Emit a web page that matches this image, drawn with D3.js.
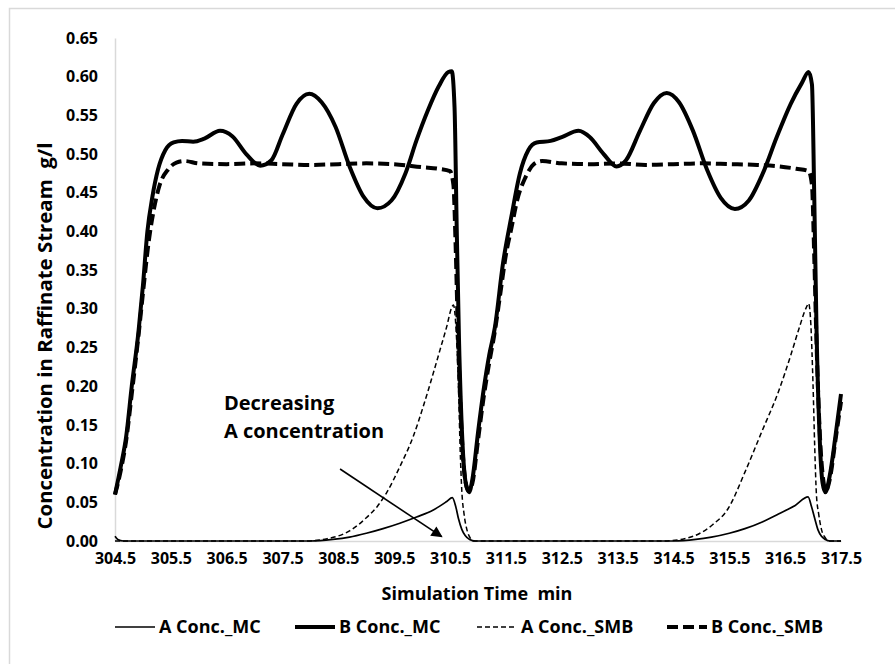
<!DOCTYPE html>
<html>
<head>
<meta charset="utf-8">
<script src="https://cdn.jsdelivr.net/npm/d3@7"></script>
<style>
  body { margin: 0; background: #fff; }
  text { font-family: "Open Sans", "DejaVu Sans", sans-serif; font-weight: bold; fill: #000; }
</style>
</head>
<body>
<svg id="chart"></svg>
<script>
// values
const xTicks = [304.5, 305.5, 306.5, 307.5, 308.5, 309.5, 310.5, 311.5, 312.5, 313.5, 314.5, 315.5, 316.5, 317.5];
const yTicks = [0, 0.05, 0.1, 0.15, 0.2, 0.25, 0.3, 0.35, 0.4, 0.45, 0.5, 0.55, 0.6, 0.65];

const aMcTime = [304.5, 304.55, 304.65, 308.0, 308.4, 308.7, 309.0, 309.3, 309.6, 309.9, 310.2, 310.44, 310.54, 310.6, 310.65, 310.71, 310.77, 310.85, 310.95,
  314.5, 314.9, 315.18, 315.5, 315.78, 316.1, 316.38, 316.68, 316.91, 316.97, 317.03, 317.09, 317.15, 317.22, 317.3, 317.5];
const aMcConc = [0.006, 0.002, 0, 0, 0.002, 0.005, 0.01, 0.016, 0.023, 0.031, 0.04, 0.051, 0.056, 0.045, 0.029, 0.015, 0.007, 0.002, 0,
  0, 0.002, 0.005, 0.01, 0.016, 0.025, 0.035, 0.046, 0.057, 0.045, 0.029, 0.014, 0.006, 0.002, 0, 0];

const bMcTime = [304.5, 304.6, 304.7, 304.8, 304.92, 305.0, 305.08, 305.17, 305.27, 305.4, 305.55, 305.7, 305.9, 306.1, 306.38, 306.6, 306.85, 307.1, 307.3, 307.5,
  307.75, 307.98, 308.2, 308.45, 308.7, 308.95, 309.2, 309.45, 309.7, 309.9, 310.1, 310.3, 310.47, 310.53, 310.58, 310.62, 310.66, 310.72, 310.78, 310.84,
  310.9, 311.0, 311.1, 311.2, 311.3, 311.45, 311.6, 311.75, 311.9, 312.05, 312.3, 312.5, 312.8, 313.0, 313.25, 313.48, 313.65, 313.9, 314.15, 314.38,
  314.6, 314.85, 315.1, 315.35, 315.6, 315.85, 316.1, 316.35, 316.6, 316.8, 316.92, 316.98, 317.02, 317.06, 317.12, 317.17, 317.22, 317.3, 317.4, 317.5];
const bMcConc = [0.06, 0.095, 0.135, 0.2, 0.27, 0.33, 0.4, 0.445, 0.48, 0.505, 0.515, 0.517, 0.516, 0.52, 0.53, 0.523, 0.5, 0.485, 0.492, 0.525,
  0.565, 0.578, 0.567, 0.535, 0.484, 0.445, 0.43, 0.44, 0.475, 0.518, 0.556, 0.588, 0.606, 0.607, 0.56, 0.4, 0.26, 0.13, 0.075, 0.063,
  0.08, 0.14, 0.195, 0.24, 0.275, 0.36, 0.42, 0.475, 0.505, 0.515, 0.517, 0.522, 0.53, 0.522, 0.5, 0.484, 0.492, 0.53, 0.566, 0.579,
  0.567, 0.53, 0.48, 0.443, 0.429, 0.44, 0.475, 0.522, 0.565, 0.592, 0.606, 0.59, 0.45, 0.28, 0.13, 0.075, 0.063, 0.085, 0.135, 0.19];

const aSmbTime = [304.5, 307.9, 308.3, 308.7, 309.0, 309.2, 309.36, 309.6, 309.84, 310.02, 310.2, 310.32, 310.44, 310.53, 310.56, 310.61, 310.65, 310.68, 310.71, 310.75, 310.8, 310.86, 310.92,
  314.3, 314.7, 315.0, 315.2, 315.48, 315.78, 316.08, 316.38, 316.6, 316.75, 316.88, 316.92, 316.96, 317.0, 317.03, 317.06, 317.1, 317.15, 317.22, 317.28, 317.5];
const aSmbConc = [0, 0, 0.003, 0.013, 0.03, 0.045, 0.062, 0.096, 0.135, 0.174, 0.217, 0.247, 0.277, 0.302, 0.305, 0.27, 0.2, 0.12, 0.065, 0.035, 0.015, 0.004, 0,
  0, 0.003, 0.011, 0.021, 0.042, 0.089, 0.141, 0.193, 0.24, 0.275, 0.302, 0.307, 0.28, 0.2, 0.12, 0.06, 0.035, 0.015, 0.004, 0, 0];

const bSmbTime = [304.5, 304.6, 304.7, 304.8, 304.92, 305.0, 305.1, 305.2, 305.3, 305.45, 305.6, 305.75, 306.0, 306.5, 307.0, 307.5, 308.0, 308.5, 309.0, 309.5,
  310.0, 310.3, 310.5, 310.56, 310.6, 310.64, 310.7, 310.76, 310.83, 310.9, 311.0, 311.1, 311.2, 311.3, 311.4, 311.5, 311.6, 311.7, 311.85, 312.0,
  312.15, 312.5, 313.0, 313.5, 314.0, 314.5, 315.0, 315.5, 316.0, 316.4, 316.7, 316.92, 316.98, 317.02, 317.06, 317.12, 317.18, 317.23, 317.3, 317.4, 317.5];
const bSmbConc = [0.06, 0.09, 0.13, 0.19, 0.265, 0.32, 0.385, 0.43, 0.46, 0.48, 0.489, 0.491, 0.488, 0.487, 0.488, 0.487, 0.486, 0.487, 0.488, 0.487,
  0.483, 0.481, 0.478, 0.46, 0.38, 0.27, 0.15, 0.085, 0.065, 0.075, 0.13, 0.185, 0.23, 0.27, 0.32, 0.37, 0.405, 0.44, 0.47, 0.487,
  0.491, 0.488, 0.487, 0.488, 0.486, 0.487, 0.488, 0.487, 0.486, 0.484, 0.481, 0.478, 0.46, 0.37, 0.26, 0.14, 0.08, 0.065, 0.08, 0.13, 0.18];

const seriesNames = ["A Conc._MC", "B Conc._MC", "A Conc._SMB", "B Conc._SMB"];

const width = 895;
const height = 664;

const svg = d3.select("#chart")
  .attr("width", width)
  .attr("height", height);

// chart frame
svg.append("rect")
  .attr("x", 9.5)
  .attr("y", 8.5)
  .attr("width", 900)
  .attr("height", 700)
  .attr("fill", "none")
  .attr("stroke", "#d9d9d9")
  .attr("stroke-width", 1.5);

const xScale = d3.scaleLinear().domain([304.5, 317.5]).range([115, 841]);
const yScale = d3.scaleLinear().domain([0, 0.65]).range([541, 38]);

const xAxis = d3.axisBottom(xScale).tickValues(xTicks).tickFormat(d3.format(".1f")).tickSize(0).tickPadding(12);
const yAxis = d3.axisLeft(yScale).tickValues(yTicks).tickFormat(d3.format(".2f")).tickSize(0).tickPadding(17);

const gx = svg.append("g")
  .attr("transform", `translate(0, ${yScale(0)})`)
  .call(xAxis);
gx.select(".domain").attr("stroke", "#d9d9d9").attr("stroke-width", 1.5);
gx.selectAll("text").style("font-size", "16px");

const gy = svg.append("g")
  .attr("transform", `translate(${xScale(304.5)}, 0)`)
  .call(yAxis);
gy.select(".domain").attr("stroke", "#d9d9d9").attr("stroke-width", 1.5);
gy.selectAll("text").style("font-size", "16px");

// axis titles
svg.append("text")
  .attr("x", 477)
  .attr("y", 600)
  .attr("text-anchor", "middle")
  .style("font-size", "18px")
  .style("white-space", "pre")
  .text("Simulation Time  min");

svg.append("text")
  .attr("transform", "translate(52, 336) rotate(-90)")
  .attr("text-anchor", "middle")
  .attr("textLength", 387)
  .attr("lengthAdjust", "spacingAndGlyphs")
  .style("font-size", "19px")
  .style("white-space", "pre")
  .text("Concentration in Raffinate Stream  g/l");

const styles = [
  { width: 1.7, dash: null },
  { width: 4, dash: null },
  { width: 1.5, dash: "5,3" },
  { width: 4, dash: "11,5" }
];

const series = [
  d3.zip(aMcTime, aMcConc),
  d3.zip(bMcTime, bMcConc),
  d3.zip(aSmbTime, aSmbConc),
  d3.zip(bSmbTime, bSmbConc)
];

const line = d3.line()
  .x(d => xScale(d[0]))
  .y(d => yScale(d[1]))
  .curve(d3.curveMonotoneX);

const drawOrder = [1, 3, 2, 0];
drawOrder.forEach(i => {
  svg.append("path")
    .datum(series[i])
    .attr("d", line)
    .attr("fill", "none")
    .attr("stroke", "#000")
    .attr("stroke-width", styles[i].width)
    .attr("stroke-dasharray", styles[i].dash)
    .attr("stroke-linejoin", "round");
});

// annotation
svg.append("defs").append("marker")
  .attr("id", "arrow")
  .attr("viewBox", "0 0 10 10")
  .attr("refX", 9)
  .attr("refY", 5)
  .attr("markerWidth", 8)
  .attr("markerHeight", 7)
  .attr("orient", "auto")
  .append("path")
  .attr("d", "M0,0 L10,5 L0,10 Z")
  .attr("fill", "#000");

svg.append("line")
  .attr("x1", xScale(308.53))
  .attr("y1", yScale(0.093))
  .attr("x2", xScale(310.35))
  .attr("y2", yScale(0.0056))
  .attr("stroke", "#000")
  .attr("stroke-width", 1.6)
  .attr("marker-end", "url(#arrow)");

const note = svg.append("text")
  .attr("x", xScale(306.45))
  .attr("y", yScale(0.169))
  .style("font-size", "20px");
note.append("tspan").text("Decreasing");
note.append("tspan")
  .attr("x", xScale(306.45))
  .attr("dy", 28)
  .text("A concentration");

// legend
const legendX = [115, 295, 477, 667];
const legend = svg.append("g");
seriesNames.forEach((name, i) => {
  const g = legend.append("g").attr("transform", `translate(${legendX[i]}, 627)`);
  g.append("line")
    .attr("x1", 0)
    .attr("x2", 40)
    .attr("stroke", "#000")
    .attr("stroke-width", styles[i].width)
    .attr("stroke-dasharray", styles[i].dash);
  g.append("text")
    .attr("x", 44)
    .attr("y", 6)
    .style("font-size", "18px")
    .text(name);
});
</script>
</body>
</html>
